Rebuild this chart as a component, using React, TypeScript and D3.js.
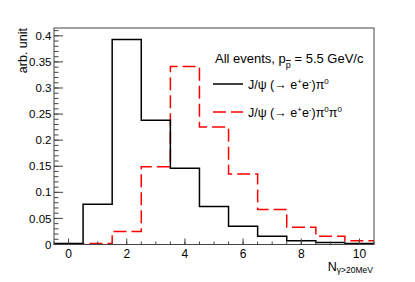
import React from "react";
import * as d3 from "d3";

const bins = [0, 1, 2, 3, 4, 5, 6, 7, 8, 9, 10];
const jpsiPi0 = [0.002, 0.077, 0.393, 0.238, 0.146, 0.073, 0.035, 0.016, 0.007, 0.004, 0.002];
const jpsiPi0Pi0 = [0.001, 0.002, 0.025, 0.149, 0.341, 0.225, 0.135, 0.067, 0.033, 0.016, 0.007];
const xTicks = [0, 2, 4, 6, 8, 10];
const yTicks = [0, 0.05, 0.1, 0.15, 0.2, 0.25, 0.3, 0.35, 0.4];
const yTickLabels = ["0", "0.05", "0.1", "0.15", "0.2", "0.25", "0.3", "0.35", "0.4"];

const W = 415, H = 282;
const M = { left: 54, right: 374, top: 28, bottom: 244.5 };
const FONT = "'Liberation Sans', Arial, Helvetica, sans-serif";

export default function App() {
  const x = d3.scaleLinear().domain([-0.5, 10.5]).range([M.left, M.right]);
  const y = d3.scaleLinear().domain([0, 0.415]).range([M.bottom, M.top]);

  const stepPath = (vals: number[]) => {
    const pts: [number, number][] = [];
    vals.forEach((v, i) => {
      pts.push([x(bins[i] - 0.5), y(v)]);
      pts.push([x(bins[i] + 0.5), y(v)]);
    });
    return d3.line()(pts) as string;
  };

  const yMinor = d3.range(0, 0.4151, 0.01);
  const xMinor = d3.range(-0.5, 10.51, 0.5);

  return (
    <svg width={W} height={H} style={{ position: "absolute", left: 0, top: 0, background: "#fff" }} fontFamily={FONT}>
      <rect x={0} y={0} width={W} height={H} fill="#fff" />
      {/* histograms */}
      <path d={stepPath(jpsiPi0Pi0)} fill="none" stroke="#ff0000" strokeWidth={1.5} strokeDasharray="13,5" />
      <path d={stepPath(jpsiPi0)} fill="none" stroke="#000" strokeWidth={1.5} />
      {/* frame */}
      <rect x={M.left} y={M.top} width={M.right - M.left} height={M.bottom - M.top} fill="none" stroke="#444" strokeWidth={1} />
      {/* y ticks */}
      {yMinor.map((t, i) => (
        <line key={"ym" + i} x1={M.left} x2={M.left + 4.5} y1={y(t)} y2={y(t)} stroke="#444" strokeWidth={1} />
      ))}
      {yTicks.map((t, i) => (
        <g key={"yt" + i}>
          <line x1={M.left} x2={M.left + 9} y1={y(t)} y2={y(t)} stroke="#444" strokeWidth={1} />
          <text x={51.5} y={y(t)} dy="0.36em" textAnchor="end" fontSize={11.5} fill="#000">{yTickLabels[i]}</text>
        </g>
      ))}
      {/* x ticks */}
      {xMinor.map((t, i) => (
        <line key={"xm" + i} x1={x(t)} x2={x(t)} y1={M.bottom} y2={M.bottom - 3} stroke="#444" strokeWidth={1} />
      ))}
      {xTicks.map((t, i) => (
        <g key={"xt" + i}>
          <line x1={x(t)} x2={x(t)} y1={M.bottom} y2={M.bottom - 6} stroke="#444" strokeWidth={1} />
          <text x={x(t)} y={258} textAnchor="middle" fontSize={12} fill="#000">{String(t)}</text>
        </g>
      ))}
      {/* axis titles */}
      <text x={373} y={270.5} textAnchor="end" fontSize={12.5} fill="#000">
        N<tspan fontSize={8.5} dy={2.5}>γ&gt;20MeV</tspan>
      </text>
      <text transform="translate(27,28) rotate(-90)" textAnchor="end" fontSize={12.5} fill="#000">arb. unit</text>
      {/* legend */}
      <text x={215} y={63} fontSize={13} fill="#000">
        All events, p<tspan fontSize={9} dy={5} textDecoration="overline" style={{ textDecoration: "overline" }}>p</tspan><tspan dy={-5}> = 5.5 GeV/c</tspan>
      </text>
      <line x1={213} x2={243} y1={84} y2={84} stroke="#000" strokeWidth={1.5} />
      <text x={248} y={88.5} fontSize={12.5} fill="#000">
        J/ψ (→ e<tspan fontSize={8} dy={-5}>+</tspan><tspan dy={5}>e</tspan><tspan fontSize={8} dy={-5}>-</tspan><tspan dy={5}>)π</tspan><tspan fontSize={8} dy={-5}>0</tspan>
      </text>
      <line x1={213} x2={243} y1={112} y2={112} stroke="#ff0000" strokeWidth={1.5} strokeDasharray="13,5" />
      <text x={248} y={116.5} fontSize={12.5} fill="#000">
        J/ψ (→ e<tspan fontSize={8} dy={-5}>+</tspan><tspan dy={5}>e</tspan><tspan fontSize={8} dy={-5}>-</tspan><tspan dy={5}>)π</tspan><tspan fontSize={8} dy={-5}>0</tspan><tspan dy={5}>π</tspan><tspan fontSize={8} dy={-5}>0</tspan>
      </text>
    </svg>
  );
}
